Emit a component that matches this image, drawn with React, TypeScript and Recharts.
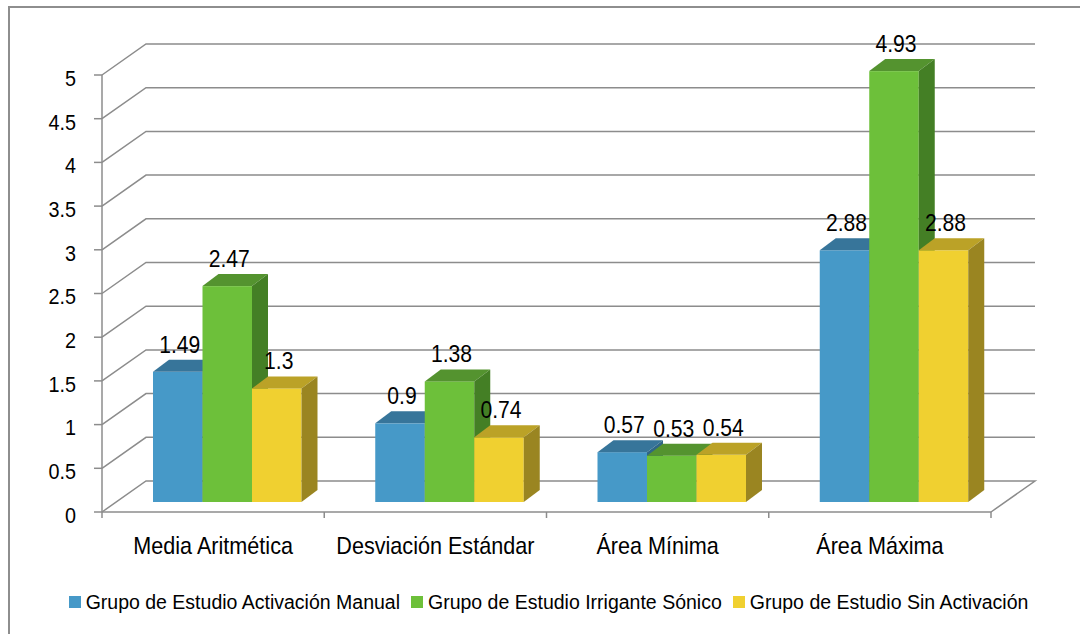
import { BarChart, Bar, XAxis, YAxis, CartesianGrid, LabelList } from "recharts";

const CATEGORIES = ["Media Aritmética", "Desviación Estándar", "Área Mínima", "Área Máxima"];
const MANUAL = [1.49, 0.9, 0.57, 2.88];
const SONICO = [2.47, 1.38, 0.53, 4.93];
const SIN_ACTIVACION = [1.3, 0.74, 0.54, 2.88];
const Y_TICKS = [0, 0.5, 1, 1.5, 2, 2.5, 3, 3.5, 4, 4.5, 5];

const SERIES = [
  { key: "manual", name: "Grupo de Estudio Activación Manual", values: MANUAL },
  { key: "sonico", name: "Grupo de Estudio Irrigante Sónico", values: SONICO },
  { key: "sin", name: "Grupo de Estudio Sin Activación", values: SIN_ACTIVACION },
];

// front / top / side shades of each series
const SHADES = [
  { front: "#4699c8", top: "#37759a", side: "#2f6686" },
  { front: "#6dc03a", top: "#54932f", side: "#447f25" },
  { front: "#f0d030", top: "#bba227", side: "#9a8521" },
];

const FONT = "'Liberation Sans', Arial, sans-serif";
const GRID = "#8c8c8c";

// oblique projection offsets
const DEPTH_DX = 44;
const DEPTH_DY = -31;
const BAR_DX = 14;
const BAR_DY = -10;
const SIDE_DX = 16;
const SIDE_DY = -12;

const data = CATEGORIES.map((category, i) => {
  const row: Record<string, string | number> = { category };
  SERIES.forEach((s) => (row[s.key] = s.values[i]));
  return row;
});

// text in the original is a bit narrower than Arial
function NarrowText({ x, y, size, squeeze, anchor, baseline, children }: any) {
  return (
    <text
      transform={`translate(${x},${y}) scale(${squeeze},1)`}
      x={0}
      y={0}
      textAnchor={anchor}
      dominantBaseline={baseline}
      fontFamily={FONT}
      fontSize={size}
      fill="#000"
    >
      {children}
    </text>
  );
}

function GridLine(props: any) {
  const { x1, y1, x2, index, y, height } = props;
  const isFloor =
    y != null && height != null ? Math.abs(y1 - (y + height)) < 1 : index === 0;
  const bx1 = x1 + DEPTH_DX;
  const bx2 = x2 + DEPTH_DX;
  const by = y1 + DEPTH_DY;
  let d = `M${x1},${y1}L${bx1},${by}L${bx2},${by}`;
  if (isFloor) d += `L${x2},${y1}`;
  return <path key={`grid-${index}`} d={d} fill="none" stroke={GRID} strokeWidth={1.5} />;
}

function makeBar3D(shade: { front: string; top: string; side: string }) {
  return (props: any) => {
    const { x, y, width, height } = props;
    if (width == null || height == null) return <g />;
    const fx = x + BAR_DX;
    const fy = y + BAR_DY;
    const w = width;
    const h = height;
    const top = `${fx},${fy} ${fx + SIDE_DX},${fy + SIDE_DY} ${fx + w + SIDE_DX},${fy + SIDE_DY} ${fx + w},${fy}`;
    const side = `${fx + w},${fy} ${fx + w + SIDE_DX},${fy + SIDE_DY} ${fx + w + SIDE_DX},${fy + h + SIDE_DY} ${fx + w},${fy + h}`;
    return (
      <g>
        <rect x={fx} y={fy} width={w} height={h} fill={shade.front} />
        <polygon points={top} fill={shade.top} />
        <polygon points={side} fill={shade.side} />
      </g>
    );
  };
}

function DataLabel(props: any) {
  const vb = props.viewBox || {};
  const x = props.x ?? vb.x;
  const y = props.y ?? vb.y;
  const width = props.width ?? vb.width;
  if (x == null || y == null) return null;
  return (
    <NarrowText x={x + BAR_DX + width / 2 + 2} y={y + BAR_DY - 19} size={24} squeeze={0.88} anchor="middle">
      {String(props.value)}
    </NarrowText>
  );
}

function YTick(props: any) {
  const { x, y, payload } = props;
  return (
    <NarrowText x={x} y={y + 3} size={22} squeeze={0.9} anchor="end" baseline="central">
      {String(payload.value)}
    </NarrowText>
  );
}

function XTick(props: any) {
  const { x, y, payload } = props;
  const half =
    payload.offset && payload.offset > 0
      ? payload.offset
      : (props.width || 889) / CATEGORIES.length / 2;
  const isLast = payload.index === CATEGORIES.length - 1;
  return (
    <g>
      <line x1={x - half} y1={y} x2={x - half} y2={y + 6} stroke={GRID} strokeWidth={1.5} />
      {isLast && (
        <line x1={x + half} y1={y} x2={x + half} y2={y + 6} stroke={GRID} strokeWidth={1.5} />
      )}
      <NarrowText x={x} y={y + 42} size={24} squeeze={0.9} anchor="middle">
        {payload.value}
      </NarrowText>
    </g>
  );
}

export default function App() {
  return (
    <div style={{ position: "absolute", left: 0, top: 0, width: 1080, height: 634, background: "#fff" }}>
      <div
        style={{
          position: "absolute",
          left: 8,
          top: 6,
          width: 1072,
          height: 628,
          borderLeft: "2px solid #8e8e8e",
          borderTop: "2px solid #8e8e8e",
          boxSizing: "border-box",
        }}
      />
      <div style={{ position: "absolute", left: 0, top: 0 }}>
        <BarChart
          width={1080}
          height={634}
          data={data}
          margin={{ top: 75, right: 89, left: 62, bottom: 82 }}
          barSize={49.5}
          barGap={0}
        >
          <CartesianGrid vertical={false} horizontal={GridLine} />
          <XAxis
            dataKey="category"
            axisLine={{ stroke: GRID, strokeWidth: 1.5 }}
            tickLine={false}
            tickSize={0}
            tickMargin={0}
            height={40}
            interval={0}
            tick={<XTick />}
          />
          <YAxis
            type="number"
            domain={[0, 5]}
            ticks={Y_TICKS}
            interval={0}
            width={40}
            axisLine={{ stroke: GRID, strokeWidth: 1.5 }}
            tickLine={{ stroke: GRID, strokeWidth: 1.5 }}
            tickSize={8}
            tickMargin={18}
            tick={<YTick />}
          />
          {SERIES.map((s, i) => (
            <Bar
              key={s.key}
              dataKey={s.key}
              name={s.name}
              fill={SHADES[i].front}
              shape={makeBar3D(SHADES[i])}
              isAnimationActive={false}
            >
              <LabelList dataKey={s.key} content={<DataLabel />} />
            </Bar>
          ))}
        </BarChart>
      </div>
      <div
        style={{
          position: "absolute",
          left: 0,
          top: 590,
          width: 1080,
          display: "flex",
          justifyContent: "center",
          paddingLeft: 17,
          boxSizing: "border-box",
          fontFamily: FONT,
          fontSize: 19.5,
          color: "#000",
          lineHeight: "24px",
        }}
      >
        {SERIES.map((s, i) => (
          <div key={s.key} style={{ display: "flex", alignItems: "center", marginRight: i < SERIES.length - 1 ? 11 : 0 }}>
            <span style={{ display: "inline-block", width: 12, height: 12, background: SHADES[i].front, marginRight: 5 }} />
            <span>{s.name}</span>
          </div>
        ))}
      </div>
    </div>
  );
}
